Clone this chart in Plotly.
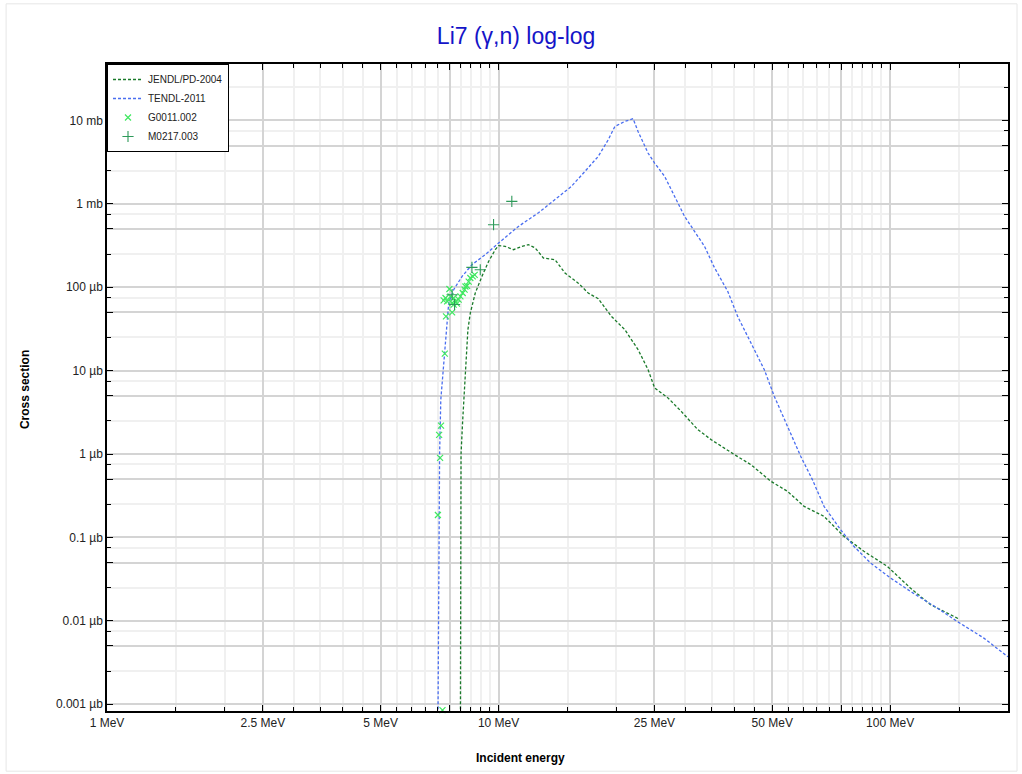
import plotly.graph_objects as go
import math

# ---------------- data (E in MeV, cross section in microbarn) ----------------
tendl_E = [7.00, 7.07, 7.12, 7.38, 7.46, 7.68, 8.07, 8.55, 9.25, 10.0, 11.24, 12.65,
           14.21, 15.34, 16.62, 17.97, 19.06, 19.82, 21.01, 22.06, 22.71, 24.08, 25.04,
           26.56, 28.16, 29.86, 31.66, 33.57, 35.59, 38.48, 40.8, 44.1, 47.7, 50.6, 54.7,
           59.1, 63.3, 67.8, 74.7, 80.8, 89.1, 100.2, 112.6, 131.7, 148.1, 173.2, 200.0]
tendl_xs = [0.0005, 1.0, 4.49, 31.0, 65.3, 93.5, 135, 186, 246, 339, 536, 783,
            1201, 1618, 2447, 3703, 5870, 8472, 9727, 10480, 7385, 4066, 3086,
            2132, 1227, 707, 467, 309, 172, 89.2, 44.7, 21.5, 10.3, 4.92, 2.15,
            0.94, 0.494, 0.236, 0.124, 0.0783, 0.0495, 0.0327, 0.0226, 0.0143, 0.00989, 0.00625, 0.0037]

jendl_E = [7.99, 8.02, 8.10, 8.23, 8.35, 8.47, 8.72, 9.07, 9.43, 9.81, 10.0, 10.40,
           10.92, 11.47, 11.92, 12.40, 13.02, 13.94, 14.78, 15.98, 16.94, 17.97, 19.42,
           21.01, 22.71, 24.08, 25.04, 27.08, 29.27, 32.28, 34.89, 40.03, 44.1, 49.6,
           54.7, 60.3, 67.8, 76.2, 85.7, 98.3, 112.6, 126.6, 139.6, 150.0]
jendl_xs = [0.0005, 1.0, 2.59, 10.0, 31.0, 49.1, 85.3, 135, 204, 282, 315, 309,
            282, 309, 324, 296, 224, 214, 148, 112, 85.3, 72.9, 44.7,
            31.0, 17.9, 10.3, 6.20, 4.71, 3.25, 1.96, 1.49, 0.984, 0.746, 0.471,
            0.357, 0.236, 0.179, 0.103, 0.0682, 0.0451, 0.0248, 0.0157, 0.0125, 0.0105]

g0011_E = [7.29, 7.13, 7.05, 7.09, 7.00, 7.19, 7.49, 7.32, 7.24, 7.39, 7.54, 7.68,
           7.61, 7.76, 7.91, 7.99, 8.10, 8.19, 8.31, 8.39, 8.47, 8.59, 8.69, 7.68,
           7.61, 7.34, 8.23, 7.83]
g0011_xs = [16.0, 2.19, 1.70, 0.90, 0.186, 0.00085, 95.3, 74.3, 69.6, 67.7, 77.7, 74.3,
            64.8, 67.7, 71.0, 77.7, 85.3, 93.5, 104, 117, 129, 135, 141, 61.8,
            50.0, 44.7, 102, 63.5]

m0217_E = [10.81, 9.71, 8.55, 8.98, 7.61, 7.72]
m0217_xs = [1069, 562, 173, 162, 81.4, 62.0]

# ---------------- axis ticks ----------------
x_major = [1, 2.5, 5, 7.5, 10, 25, 50, 75, 100]
x_major_text = ["1 MeV", "2.5 MeV", "5 MeV", "", "10 MeV", "25 MeV", "50 MeV", "", "100 MeV"]
x_minor = [1.5, 2, 3, 3.5, 4, 4.5, 5.5, 6, 6.5, 7, 8, 8.5, 9, 9.5,
           15, 20, 30, 35, 40, 45, 55, 60, 65, 70, 80, 85, 90, 95, 150, 200]

y_decades = [1e-3, 1e-2, 1e-1, 1, 10, 100, 1e3, 1e4]
y_decade_text = ["0.001 µb", "0.01 µb", "0.1 µb", "1 µb", "10 µb", "100 µb", "1 mb", "10 mb"]

y_major, y_major_text, y_minor = [], [], []
for v, t in zip(y_decades, y_decade_text):
    y_major += [v, 5 * v]
    y_major_text += [t, ""]
    y_minor += [2.5 * v, 7.5 * v]

FONT = "Liberation Sans, Arial, sans-serif"

fig = go.Figure()
fig.add_trace(go.Scatter(x=jendl_E, y=jendl_xs, mode="lines", name="JENDL/PD-2004",
                         line=dict(color="#1a7a2a", width=1.3, dash="3px,2px")))
fig.add_trace(go.Scatter(x=tendl_E, y=tendl_xs, mode="lines", name="TENDL-2011",
                         line=dict(color="#4a6ef0", width=1.3, dash="3px,2px")))
fig.add_trace(go.Scatter(x=g0011_E, y=g0011_xs, mode="markers", name="G0011.002",
                         marker=dict(symbol="x-thin", size=6, line=dict(color="#3fe860", width=1.2)),
                         cliponaxis=False))
fig.add_trace(go.Scatter(x=m0217_E, y=m0217_xs, mode="markers", name="M0217.003",
                         marker=dict(symbol="cross-thin", size=8, line=dict(color="#2e9a5a", width=1.1))))

axis_common = dict(
    type="log", showline=True, linecolor="black", linewidth=1.5, mirror="allticks",
    ticks="inside", ticklen=6, tickcolor="black", showgrid=True, gridcolor="#d4d4d4",
    gridwidth=1.5, zeroline=False, tickfont=dict(family=FONT, size=12, color="#222"),
)

fig.update_xaxes(**axis_common, range=[0, math.log10(200)], tickmode="array",
                 tickvals=x_major, ticktext=x_major_text,
                 minor=dict(tickmode="array", tickvals=x_minor, showgrid=True,
                            gridcolor="#f0f0f0", gridwidth=1.5, ticks="inside",
                            ticklen=4, tickcolor="black"))
fig.update_yaxes(**axis_common, range=[math.log10(8.3e-4), math.log10(4.75e4)],
                 tickmode="array", tickvals=y_major, ticktext=y_major_text,
                 minor=dict(tickmode="array", tickvals=y_minor, showgrid=True,
                            gridcolor="#f0f0f0", gridwidth=1.5, ticks="inside",
                            ticklen=4, tickcolor="black"))

fig.update_layout(
    width=1022, height=774,
    margin=dict(l=107, r=12, t=64, b=63),
    paper_bgcolor="white", plot_bgcolor="white",
    title=dict(text="Li7 (γ,n) log-log", x=0.505, xanchor="center", y=0.953, yanchor="middle",
               font=dict(family=FONT, size=23, color="#1414c8")),
    showlegend=True,
    legend=dict(x=0, y=1, xanchor="left", yanchor="top", bgcolor="white",
                bordercolor="black", borderwidth=1, font=dict(family=FONT, size=10, color="#222"),
                itemwidth=30, tracegroupgap=0),
    annotations=[
        dict(text="<b>Incident energy</b>", xref="paper", yref="paper", x=0.459, y=-0.073,
             showarrow=False, font=dict(family=FONT, size=12, color="black"),
             xanchor="center", yanchor="middle"),
        dict(text="<b>Cross section</b>", xref="paper", yref="paper", x=-0.091, y=0.496,
             showarrow=False, textangle=-90, font=dict(family=FONT, size=12, color="black"),
             xanchor="center", yanchor="middle"),
    ],
    shapes=[dict(type="rect", xref="paper", yref="paper", x0=-0.112, x1=1.0100, y0=-0.093, y1=1.093,
                 line=dict(color="#e6e6e6", width=1), layer="below")],
)

fig.write_html("out.html")
